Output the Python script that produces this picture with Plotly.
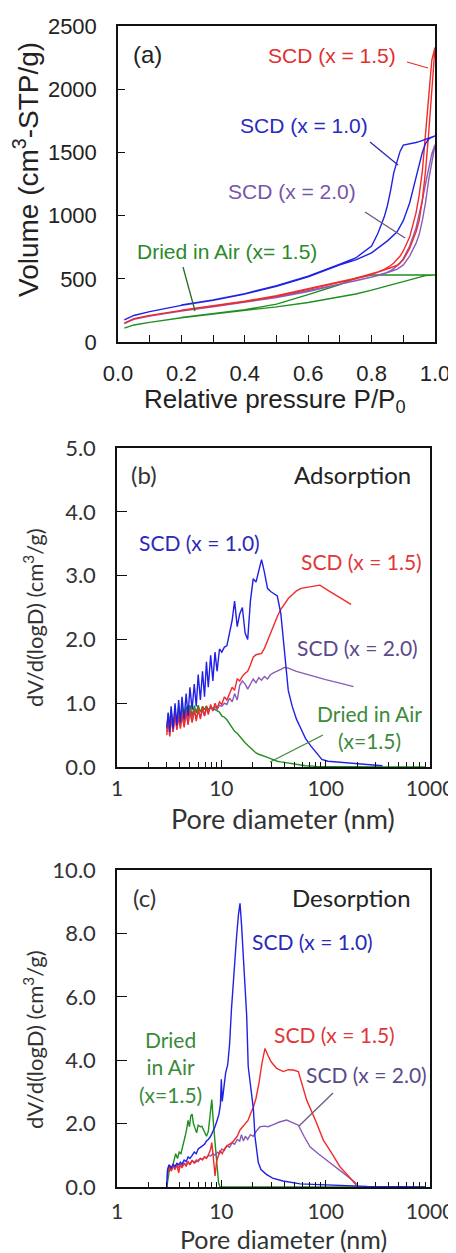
import plotly.graph_objects as go

# ---------------- data: panel (a) N2 isotherms ----------------
P_ads = [0.02, 0.05, 0.1, 0.15, 0.2, 0.3, 0.4, 0.5, 0.6, 0.7, 0.75, 0.8, 0.85, 0.88, 0.9, 0.92, 0.94, 0.95, 0.96, 0.97, 0.98, 0.99, 1.0]
P_des = [1.0, 0.99, 0.98, 0.97, 0.96, 0.95, 0.94, 0.92, 0.9, 0.89, 0.88, 0.87, 0.86, 0.85, 0.84, 0.82, 0.8, 0.75, 0.7, 0.6, 0.5, 0.4, 0.3, 0.2]

a_blue_ads = [175, 210, 240, 265, 290, 330, 380, 440, 515, 610, 650, 705, 800, 870, 960, 1100, 1300, 1420, 1500, 1570, 1605, 1620, 1630]
a_blue_des = [1630, 1625, 1615, 1605, 1595, 1585, 1578, 1570, 1558, 1510, 1430, 1340, 1200, 1080, 990, 860, 760, 665, 615, 520, 445, 383, 333, 293]
a_red_ads = [150, 185, 210, 232, 250, 285, 320, 362, 415, 470, 500, 535, 575, 605, 650, 740, 870, 960, 1120, 1350, 1650, 2000, 2330]
a_red_des = [2330, 2230, 1950, 1620, 1350, 1160, 1020, 830, 720, 680, 650, 625, 605, 590, 575, 555, 540, 505, 478, 422, 366, 322, 287, 252]
a_purple_ads = [145, 180, 205, 227, 245, 278, 312, 352, 400, 455, 485, 515, 550, 575, 610, 680, 780, 850, 960, 1100, 1280, 1420, 1560]
a_purple_des = [1560, 1490, 1380, 1250, 1120, 1000, 900, 760, 660, 625, 600, 580, 565, 550, 540, 525, 515, 485, 458, 405, 357, 318, 282, 248]
a_green_ads = [110, 135, 155, 175, 192, 222, 250, 278, 312, 355, 380, 410, 445, 465, 480, 495, 510, 516, 521, 525, 528, 530, 530]
a_green_des = [530, 530, 530, 530, 530, 530, 530, 530, 530, 530, 530, 530, 530, 530, 530, 530, 530, 505, 455, 375, 300, 255, 225, 194]

# ---------------- data: panel (b) adsorption PSD ----------------
b_blue_D = [3.0, 3.1, 3.2, 3.3, 3.45, 3.6, 3.75, 3.9, 4.05, 4.2, 4.4, 4.6, 4.8, 5.0, 5.25, 5.5, 5.75, 6.0, 6.3, 6.6, 6.9, 7.2, 7.5, 7.9, 8.3, 8.7, 9.1, 9.6, 10.1, 10.7, 11.3, 12.0, 12.7, 13.4, 14.2, 15.0, 15.9, 16.9, 17.9, 19.0, 20.2, 21.5, 22.8, 24.3, 25.9, 27.7, 29.7, 31.9, 34.4, 37.2, 40.3, 43.8, 47.8, 52.5, 58, 64, 72, 81, 92, 105, 122, 145, 175, 215, 270, 350]
b_blue_V = [0.62, 0.85, 0.55, 0.95, 0.6, 1.0, 0.65, 1.05, 0.7, 1.1, 0.75, 1.15, 0.8, 1.25, 0.9, 1.3, 0.95, 1.45, 1.05, 1.5, 1.1, 1.65, 1.25, 1.75, 1.35, 1.8, 1.5, 1.85, 1.8, 1.88, 1.9, 2.1, 2.3, 2.6, 2.2, 2.4, 2.5, 2.1, 2.0, 2.6, 2.95, 2.9, 3.05, 3.25, 3.05, 2.8, 2.75, 2.72, 2.68, 2.4, 1.8, 1.2, 0.95, 0.75, 0.6, 0.45, 0.33, 0.22, 0.12, 0.09, 0.08, 0.07, 0.06, 0.05, 0.03, 0.02]

b_red_D = [3.0, 3.1, 3.2, 3.3, 3.45, 3.6, 3.75, 3.9, 4.05, 4.2, 4.4, 4.6, 4.8, 5.0, 5.25, 5.5, 5.75, 6.0, 6.3, 6.6, 6.9, 7.2, 7.5, 7.9, 8.3, 8.7, 9.1, 9.6, 10.1, 10.7, 11.3, 12.0, 12.7, 13.4, 14.2, 15.0, 15.9, 16.9, 17.9, 19.0, 20.2, 21.5, 22.8, 24.3, 25.9, 27.7, 29.7, 31.9, 34.4, 37.2, 40.3, 43.8, 47.8, 52.5, 58, 70, 88, 110, 140, 175]
b_red_V = [0.5, 0.75, 0.48, 0.8, 0.55, 0.85, 0.58, 0.8, 0.6, 0.85, 0.62, 0.88, 0.66, 0.9, 0.7, 0.9, 0.72, 0.92, 0.75, 0.95, 0.8, 0.95, 0.82, 0.98, 0.88, 1.0, 0.92, 1.02, 0.98, 1.1, 1.05, 1.15, 1.25, 1.2, 1.38, 1.35, 1.42, 1.47, 1.5, 1.6, 1.72, 1.76, 1.77, 1.78, 1.86, 1.98, 2.1, 2.22, 2.36, 2.47, 2.56, 2.64, 2.7, 2.76, 2.8, 2.82, 2.85, 2.75, 2.65, 2.55]

b_purple_D = [3.0, 3.1, 3.2, 3.3, 3.45, 3.6, 3.75, 3.9, 4.05, 4.2, 4.4, 4.6, 4.8, 5.0, 5.25, 5.5, 5.75, 6.0, 6.3, 6.6, 6.9, 7.2, 7.5, 7.9, 8.3, 8.7, 9.1, 9.6, 10.1, 10.7, 11.3, 12.0, 12.7, 13.4, 14.2, 15.0, 15.9, 16.9, 17.9, 19.0, 20.2, 21.5, 22.8, 24.3, 25.9, 27.7, 29.7, 31.9, 34.4, 37.2, 40.3, 43.8, 52.5, 70, 100, 140, 185]
b_purple_V = [0.55, 0.8, 0.5, 0.78, 0.55, 0.8, 0.6, 0.82, 0.62, 0.8, 0.65, 0.85, 0.68, 0.88, 0.7, 0.9, 0.75, 0.88, 0.78, 0.9, 0.8, 0.92, 0.85, 0.95, 0.88, 0.95, 0.9, 0.97, 0.95, 1.0, 0.98, 1.08, 1.02, 1.15, 1.05, 1.28, 1.35, 1.3, 1.22, 1.3, 1.38, 1.32, 1.4, 1.36, 1.42, 1.38, 1.45, 1.48, 1.5, 1.53, 1.56, 1.55, 1.5, 1.44, 1.37, 1.31, 1.26]

b_green_D = [3.0, 3.1, 3.2, 3.3, 3.45, 3.6, 3.75, 3.9, 4.05, 4.2, 4.4, 4.6, 4.8, 5.0, 5.25, 5.5, 5.75, 6.0, 6.3, 6.6, 6.9, 7.2, 7.5, 7.9, 8.3, 8.7, 9.1, 9.6, 10.1, 10.7, 11.3, 12.0, 12.7, 13.4, 14.2, 15.0, 15.9, 16.9, 17.9, 19.0, 20.2, 21.5, 22.8, 24.3, 25.9, 27.7, 29.7, 31.9, 34.4, 37.2, 40.3, 43.8, 52.5, 64, 81, 120, 200, 400, 900]
b_green_V = [0.6, 0.85, 0.58, 0.9, 0.6, 0.9, 0.65, 0.92, 0.7, 0.95, 0.72, 0.95, 0.78, 0.97, 0.8, 0.96, 0.85, 0.97, 0.86, 0.95, 0.9, 0.96, 0.9, 0.93, 0.92, 0.9, 0.88, 0.86, 0.8, 0.78, 0.74, 0.68, 0.62, 0.56, 0.53, 0.48, 0.42, 0.38, 0.34, 0.3, 0.26, 0.22, 0.2, 0.18, 0.16, 0.15, 0.13, 0.11, 0.09, 0.08, 0.07, 0.06, 0.04, 0.02, 0.01, 0.005, 0.0, 0.0, 0.0]

# ---------------- data: panel (c) desorption PSD ----------------
c_blue_D = [3.0, 3.05, 3.15, 3.3, 3.45, 3.6, 3.75, 3.9, 4.05, 4.2, 4.4, 4.6, 4.8, 5.0, 5.25, 5.5, 5.75, 6.0, 6.3, 6.6, 6.9, 7.2, 7.5, 7.9, 8.3, 8.7, 9.1, 9.5, 9.8, 10.0, 10.2, 10.5, 11.0, 11.5, 12.0, 12.5, 13.0, 13.5, 14.0, 14.6, 15.1, 15.6, 16.2, 16.8, 17.5, 18.1, 18.8, 19.5, 20.3, 21.0, 21.8, 22.6, 24, 27, 31, 39, 57, 118, 250, 500, 900]
c_blue_V = [0.0, 0.55, 0.7, 0.6, 0.72, 0.65, 0.75, 0.7, 0.78, 0.72, 0.85, 0.8, 0.95, 0.9, 1.0, 1.1, 1.05, 1.2, 1.25, 1.3, 1.35, 1.45, 1.5, 1.6, 1.75, 1.9, 2.1, 2.3, 2.6, 3.4, 2.7, 3.0, 3.6, 3.85, 4.5, 5.6, 6.5, 7.2, 7.9, 8.6, 8.95, 8.3, 7.2, 6.3, 5.4, 3.8, 3.4, 3.0, 2.45, 1.6, 1.1, 0.77, 0.55, 0.4, 0.28, 0.19, 0.1, 0.05, 0.02, 0.01, 0.0]

c_red_D = [3.1, 3.2, 3.3, 3.45, 3.6, 3.75, 3.9, 4.05, 4.2, 4.4, 4.6, 4.8, 5.0, 5.25, 5.5, 5.75, 6.0, 6.3, 6.6, 6.9, 7.2, 7.5, 7.9, 8.1, 8.4, 8.7, 9.0, 9.4, 9.7, 10.2, 10.7, 11.3, 12.0, 12.7, 13.4, 14.2, 15.1, 16, 17, 18, 19, 20.2, 21.5, 23, 24.5, 26.2, 28, 30, 33.9, 39.3, 44, 49, 54.7, 60, 65.8, 80, 95, 115, 137, 165, 198]
c_red_V = [0.45, 0.7, 0.5, 0.65, 0.55, 0.7, 0.45, 0.72, 0.6, 0.75, 0.65, 0.8, 0.7, 0.85, 0.75, 0.8, 0.85, 0.9, 0.85, 0.95, 0.9, 1.0, 1.2, 1.4, 0.9, 0.35, 0.8, 1.0, 1.15, 1.05, 1.2, 1.3, 1.35, 1.4, 1.5, 1.6, 1.8, 1.9, 2.0, 2.1, 2.3, 2.5, 2.8, 3.3, 3.9, 4.37, 4.15, 3.95, 3.74, 3.64, 3.7, 3.69, 3.64, 3.2, 2.74, 2.1, 1.48, 1.05, 0.64, 0.35, 0.05]

c_purple_D = [3.0, 3.05, 3.15, 3.3, 3.45, 3.6, 3.75, 3.9, 4.05, 4.2, 4.4, 4.6, 4.8, 5.0, 5.25, 5.5, 5.75, 6.0, 6.3, 6.6, 6.9, 7.2, 7.5, 7.9, 8.3, 8.7, 9.1, 9.6, 10.1, 10.7, 11.3, 12.0, 12.7, 13.4, 14.2, 15.0, 15.6, 16.3, 17.0, 17.9, 19, 20.2, 21.5, 23.5, 26, 28, 31.5, 36, 42.3, 48, 54.7, 62, 70.8, 85, 102, 130, 160, 198]
c_purple_V = [0.0, 0.5, 0.65, 0.55, 0.7, 0.6, 0.75, 0.6, 0.7, 0.65, 0.75, 0.7, 0.8, 0.72, 0.82, 0.78, 0.85, 0.8, 0.9, 0.88, 0.95, 0.92, 1.0, 0.98, 1.05, 1.0, 1.1, 1.05, 1.2, 1.15, 1.3, 1.25, 1.4, 1.35, 1.5, 1.45, 1.65, 1.45, 1.6, 1.5, 1.65, 1.6, 1.75, 1.9, 1.92, 1.9, 1.97, 2.05, 2.11, 2.03, 1.95, 1.6, 1.27, 1.05, 0.85, 0.6, 0.35, 0.1]

c_green_D = [3.0, 3.1, 3.2, 3.35, 3.5, 3.65, 3.8, 3.95, 4.1, 4.3, 4.5, 4.65, 4.8, 4.95, 5.1, 5.25, 5.4, 5.6, 5.8, 6.0, 6.3, 6.5, 6.8, 7.2, 7.5, 7.8, 8.1, 8.4, 8.7, 9.0, 9.4, 9.7, 20, 100, 900]
c_green_V = [0.0, 0.3, 0.6, 0.55, 0.8, 1.05, 0.9, 1.1, 1.05, 1.3, 1.6, 1.82, 2.1, 1.9, 2.25, 2.3, 2.0, 1.85, 1.71, 1.95, 1.9, 1.92, 1.75, 1.6, 1.75, 2.2, 2.76, 2.0, 1.4, 0.6, 0.14, 0.0, 0.0, 0.0, 0.0]

# ---------------- ticks ----------------
a_xticks = [0.0, 0.2, 0.4, 0.6, 0.8, 1.0]
a_xminor = [0.1, 0.3, 0.5, 0.7, 0.9]
a_yticks = [0, 500, 1000, 1500, 2000, 2500]
log_major = [1, 10, 100, 1000]
log_minor = [2, 3, 4, 5, 6, 7, 8, 9, 20, 30, 40, 50, 60, 70, 80, 90, 200, 300, 400, 500, 600, 700, 800, 900]
b_yticks = [0, 1, 2, 3, 4, 5]
c_yticks = [0, 2, 4, 6, 8, 10]

# ---------------- styling ----------------
# The page body keeps an 8 px margin, so the figure is 8 px smaller and all
# layout positions below are given in page pixels and shifted by OFF.
OFF = 8
W, H = 456 - OFF, 1253 - OFF
def px(x):
    return (x - OFF) / W
def py(y):
    return 1 - (y - OFF) / H

BLUE = "#2020e6"
RED = "#f22a2a"
PURPLE = "#8a5cb8"
GREEN = "#1f8f1f"
ARIAL = "Liberation Sans, Arial, sans-serif"
CAL = "Lato, Open Sans, sans-serif"

fig = go.Figure()

def add_loop(ads, des, color):
    fig.add_trace(go.Scatter(x=P_ads + P_des, y=ads + des, mode="lines",
                             line=dict(color=color, width=1.4), xaxis="x", yaxis="y",
                             showlegend=False, hoverinfo="skip"))

add_loop(a_green_ads, a_green_des, GREEN)
add_loop(a_purple_ads, a_purple_des, PURPLE)
add_loop(a_red_ads, a_red_des, RED)
add_loop(a_blue_ads, a_blue_des, BLUE)

def add_psd(D, V, color, xa, ya):
    fig.add_trace(go.Scatter(x=D, y=V, mode="lines", line=dict(color=color, width=1.4),
                             xaxis=xa, yaxis=ya, showlegend=False, hoverinfo="skip"))

add_psd(b_green_D, b_green_V, GREEN, "x2", "y2")
add_psd(b_purple_D, b_purple_V, PURPLE, "x2", "y2")
add_psd(b_red_D, b_red_V, RED, "x2", "y2")
add_psd(b_blue_D, b_blue_V, BLUE, "x2", "y2")

add_psd(c_green_D, c_green_V, GREEN, "x3", "y3")
add_psd(c_purple_D, c_purple_V, PURPLE, "x3", "y3")
add_psd(c_red_D, c_red_V, RED, "x3", "y3")
add_psd(c_blue_D, c_blue_V, BLUE, "x3", "y3")

frame = dict(showline=True, mirror=True, linecolor="#111", linewidth=1.5,
             showgrid=False, zeroline=False, ticks="inside", tickcolor="#111",
             automargin=False)

fig.update_layout(
    width=W, height=H, margin=dict(l=0, r=0, t=0, b=0, autoexpand=False),
    paper_bgcolor="white", plot_bgcolor="white",
    xaxis=dict(domain=[px(118), px(435)], range=[0, 1.0], anchor="y",
               tickvals=a_xticks, tickformat=".1f", ticklen=7,
               minor=dict(tickvals=a_xminor, ticks="inside", ticklen=7, tickcolor="#111"),
               tickfont=dict(family=ARIAL, size=22, color="#222"), ticklabelstandoff=11, **frame),
    yaxis=dict(domain=[py(342), py(26)], range=[0, 2500], anchor="x",
               tickvals=a_yticks, ticklen=7,
               tickfont=dict(family=ARIAL, size=22, color="#222"), ticklabelstandoff=15, **frame),
    xaxis2=dict(domain=[px(117), px(430)], type="log", range=[0, 3], anchor="y2",
                tickvals=log_major, ticklen=7,
                minor=dict(tickvals=log_minor, ticks="inside", ticklen=5, tickcolor="#111"),
                tickfont=dict(family=CAL, size=21, color="#333"), ticklabelstandoff=2, **frame),
    yaxis2=dict(domain=[py(767), py(448)], range=[0, 5], anchor="x2",
                tickvals=b_yticks, tickformat=".1f", ticklen=10,
                tickfont=dict(family=CAL, size=22, color="#333"), ticklabelstandoff=15, **frame),
    xaxis3=dict(domain=[px(117), px(430)], type="log", range=[0, 3], anchor="y3",
                tickvals=log_major, ticklen=7,
                minor=dict(tickvals=log_minor, ticks="inside", ticklen=5, tickcolor="#111"),
                tickfont=dict(family=CAL, size=21, color="#333"), ticklabelstandoff=5, **frame),
    yaxis3=dict(domain=[py(1187), py(870)], range=[0, 10], anchor="x3",
                tickvals=c_yticks, tickformat=".1f", ticklen=10,
                tickfont=dict(family=CAL, size=22, color="#333"), ticklabelstandoff=15, **frame),
)

def label(text, x, y, color, family, size, angle=0):
    fig.add_annotation(text=text, x=px(x), y=py(y), xref="paper", yref="paper",
                       showarrow=False, xanchor="center", yanchor="middle",
                       textangle=angle, font=dict(family=family, size=size, color=color))

def pointer(x0, y0, x1, y1, color):
    fig.add_shape(type="line", xref="paper", yref="paper",
                  x0=px(x0), y0=py(y0), x1=px(x1), y1=py(y1),
                  line=dict(color=color, width=1.3))

# panel (a)
label("(a)", 147, 55, "#222", ARIAL, 24)
label("SCD (x = 1.5)", 332, 56, "#e03030", ARIAL, 21)
label("SCD (x = 1.0)", 304, 125, "#2a2ac0", ARIAL, 21)
label("SCD (x = 2.0)", 292, 192, "#7a55a8", ARIAL, 21)
label("Dried in Air (x= 1.5)", 227, 251, "#2a8a2a", ARIAL, 21)
pointer(407, 62, 428, 68, "#e03030")
pointer(370, 142, 398, 165, "#2a2ab0")
pointer(365, 212, 405, 238, "#6a5a80")
pointer(183, 267, 195, 311, "#2a6a2a")
label("Volume (cm<sup>3</sup>-STP/g)", 26, 170, "#222", ARIAL, 28, -90)
label("Relative pressure P/P<sub>0</sub>", 275, 401, "#222", ARIAL, 26)

# panel (b)
label("(b)", 144, 474, "#333", CAL, 24)
label("Adsorption", 352, 474, "#222", CAL, 24)
label("SCD (x = 1.0)", 199, 542, "#2a2ab8", CAL, 21)
label("SCD (x = 1.5)", 361, 561, "#e03838", CAL, 21)
label("SCD (x = 2.0)", 357, 647, "#5a4a8a", CAL, 21)
label("Dried in Air<br>(x=1.5)", 369, 727, "#3a8a3a", CAL, 21)
pointer(323, 735, 270, 762, "#3a8a3a")
label("dV/d(logD) (cm<sup>3</sup>/g)", 33, 618, "#333", CAL, 22, -90)
label("Pore diameter (nm)", 283, 818, "#333", CAL, 27)

# panel (c)
label("(c)", 144, 897, "#333", CAL, 24)
label("Desorption", 351, 897, "#222", CAL, 24)
label("SCD (x = 1.0)", 312, 941, "#2a2ab8", CAL, 21)
label("SCD (x = 1.5)", 334, 1034, "#e03838", CAL, 21)
label("SCD (x = 2.0)", 366, 1074, "#5a4a8a", CAL, 21)
label("Dried<br>in Air<br>(x=1.5)", 170, 1067, "#3a8a3a", CAL, 21)
pointer(333, 1093, 299, 1126, "#6a5a88")
label("dV/d(logD) (cm<sup>3</sup>/g)", 33, 1040, "#333", CAL, 22, -90)
label("Pore diameter (nm)", 283, 1239, "#333", CAL, 25)

fig.write_html("out.html")
